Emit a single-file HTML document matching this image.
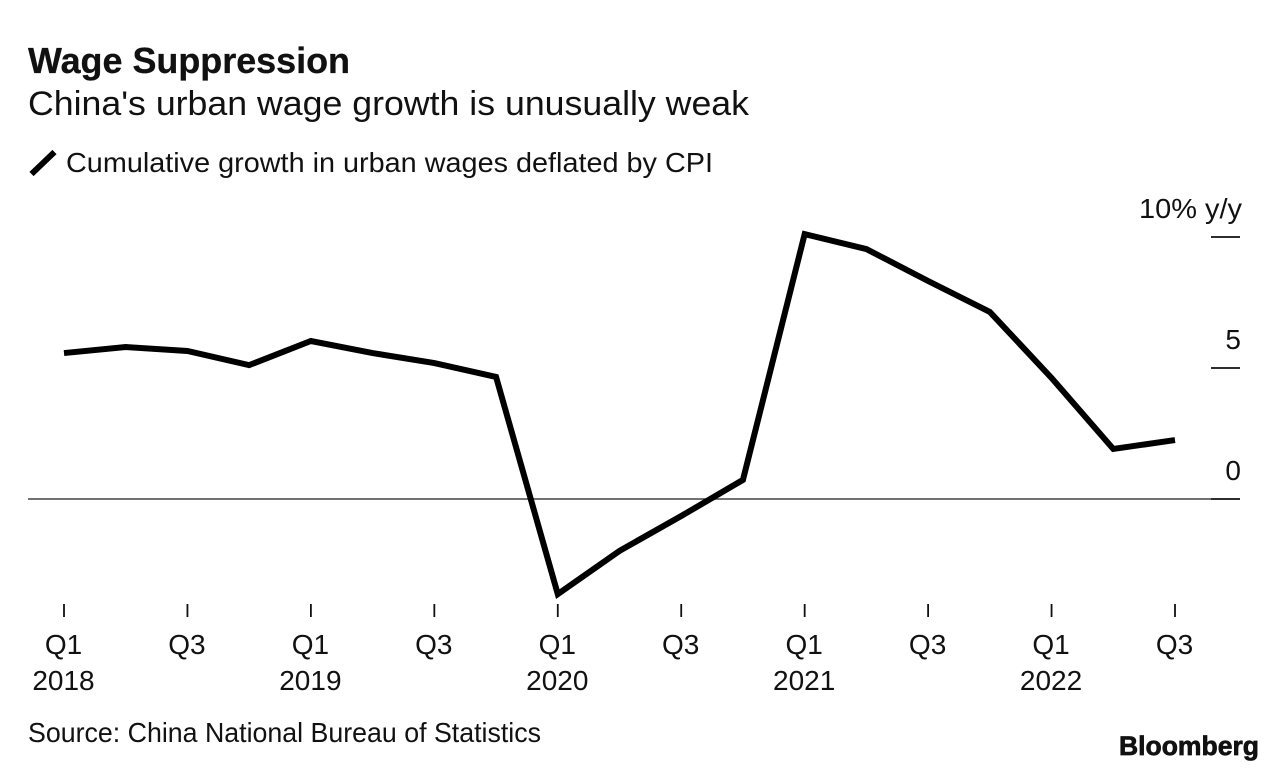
<!DOCTYPE html>
<html lang="en">
<head>
<meta charset="utf-8">
<title>Wage Suppression</title>
<style>
html,body{margin:0;padding:0;background:#fff;width:1286px;height:772px;overflow:hidden}
svg{display:block}
text{font-family:"Liberation Sans",sans-serif;fill:#111}
</style>
</head>
<body>
<svg id="chart" xmlns="http://www.w3.org/2000/svg" width="1286" height="772" viewBox="0 0 1286 772">
<text x="28" y="73" font-size="36" font-weight="700" textLength="322" lengthAdjust="spacingAndGlyphs" stroke="#111" stroke-width="0.3">Wage Suppression</text>
<text x="28" y="115" font-size="34" textLength="721" lengthAdjust="spacingAndGlyphs">China's urban wage growth is unusually weak</text>
<line x1="31.5" y1="174" x2="54.5" y2="152" stroke="#000" stroke-width="6"/>
<text x="66" y="172" font-size="28" textLength="647" lengthAdjust="spacingAndGlyphs">Cumulative growth in urban wages deflated by CPI</text>
<text x="1242" y="218" font-size="28" text-anchor="end" textLength="103" lengthAdjust="spacingAndGlyphs">10% y/y</text>
<line x1="28" y1="499" x2="1211" y2="499" stroke="#444" stroke-width="1.6"/>
<g id="y-axis"></g>
<g id="x-axis"></g>
<polyline id="series" fill="none" stroke="#000" stroke-width="6" stroke-linejoin="miter" stroke-linecap="butt"/>
<text x="28" y="742" font-size="28" textLength="513" lengthAdjust="spacingAndGlyphs">Source: China National Bureau of Statistics</text>
<text x="1119" y="755" font-size="27" font-weight="700" textLength="140" lengthAdjust="spacingAndGlyphs" stroke="#111" stroke-width="0.7">Bloomberg</text>
</svg>
<script>
const quarters = ["Q1","Q2","Q3","Q4","Q1","Q2","Q3","Q4","Q1","Q2","Q3","Q4","Q1","Q2","Q3","Q4","Q1","Q2","Q3"];
const years = ["2018","","","","2019","","","","2020","","","","2021","","","","2022","",""];
const wageGrowth = [5.57,5.80,5.65,5.11,6.03,5.57,5.19,4.66,-3.63,-1.98,-0.65,0.73,10.11,9.54,8.32,7.14,4.62,1.91,2.25];
const yTicks = [10,5,0];
const yTickLabels = ["","5","0"];

const NS = "http://www.w3.org/2000/svg";
function xScale(i){ return 64 + i * (1175 - 64) / (quarters.length - 1); }
function yScale(v){ return 499 - v * 26.2; }

const yAxis = document.getElementById("y-axis");
yTicks.forEach(function(t, i){
  const line = document.createElementNS(NS, "line");
  
  
  line.setAttribute("x1", 1211);
  line.setAttribute("x2", 1240);
  line.setAttribute("y1", yScale(t));
  line.setAttribute("y2", yScale(t));
  line.setAttribute("stroke", "#111");
  line.setAttribute("stroke-width", 1.8);
  yAxis.appendChild(line);
  if (yTickLabels[i]) {
    const label = document.createElementNS(NS, "text");
    
    
    label.setAttribute("x", 1241);
    label.setAttribute("y", yScale(t) - 19);
    label.setAttribute("font-size", 28);
    label.setAttribute("text-anchor", "end");
    label.textContent = yTickLabels[i];
    yAxis.appendChild(label);
  }
});

const xAxis = document.getElementById("x-axis");
quarters.forEach(function(q, i){
  if (i % 2 !== 0) return;
  const x = xScale(i);
  const tick = document.createElementNS(NS, "line");
  
  
  tick.setAttribute("x1", x);
  tick.setAttribute("x2", x);
  tick.setAttribute("y1", 604);
  tick.setAttribute("y2", 617);
  tick.setAttribute("stroke", "#111");
  tick.setAttribute("stroke-width", 1.8);
  xAxis.appendChild(tick);
  const label = document.createElementNS(NS, "text");
  
  
  label.setAttribute("x", x - 0.5);
  label.setAttribute("y", 654);
  label.setAttribute("font-size", 28);
  label.setAttribute("text-anchor", "middle");
  label.textContent = q;
  xAxis.appendChild(label);
  if (years[i]) {
    const year = document.createElementNS(NS, "text");
    
    
    year.setAttribute("x", x - 0.5);
    year.setAttribute("y", 690);
    year.setAttribute("font-size", 28);
    year.setAttribute("text-anchor", "middle");
    year.textContent = years[i];
    xAxis.appendChild(year);
  }
});

document.getElementById("series").setAttribute("points",
  wageGrowth.map(function(v, i){ return xScale(i) + "," + yScale(v); }).join(" "));
</script>
</body>
</html>
